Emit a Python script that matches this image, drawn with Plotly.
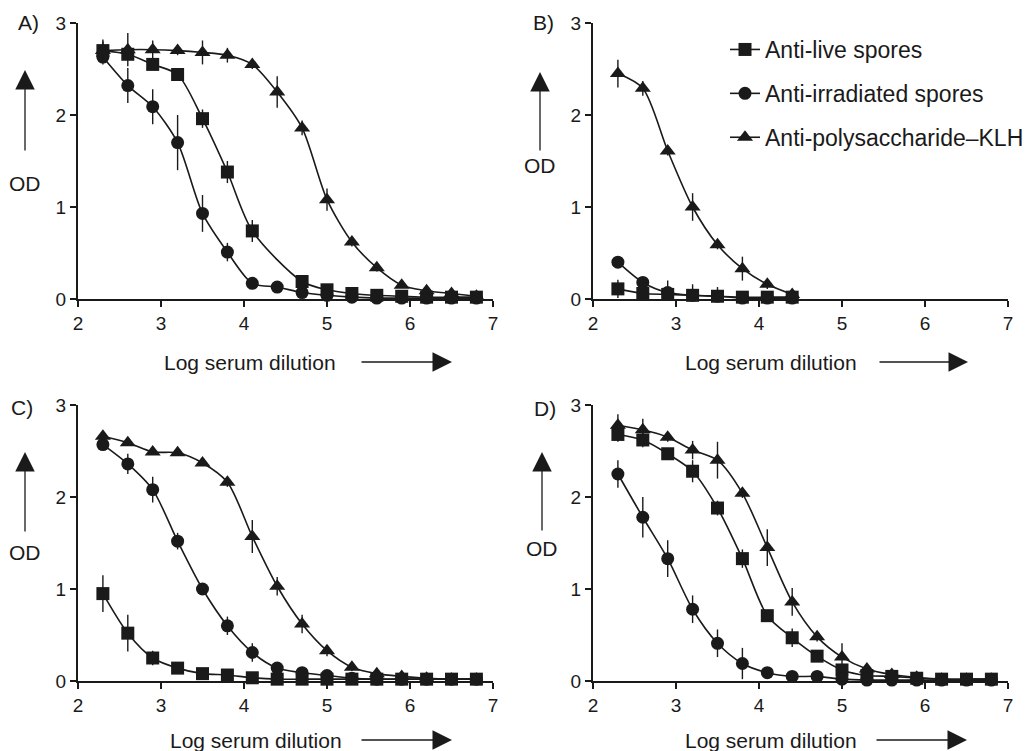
import plotly.graph_objects as go

W, H = 1034, 751

dilution = [2.3, 2.6, 2.9, 3.2, 3.5, 3.8, 4.1, 4.4, 4.7, 5.0, 5.3, 5.6, 5.9, 6.2, 6.5, 6.8]
dilution_b = [2.3, 2.6, 2.9, 3.2, 3.5, 3.8, 4.1, 4.4]

series_names = ["Anti-live spores", "Anti-irradiated spores", "Anti-polysaccharide\u2013KLH"]
symbols = ["square", "circle", "triangle-up"]
panel_letters = ["A)", "B)", "C)", "D)"]
x_ticks = [2, 3, 4, 5, 6, 7]
y_ticks = [0, 1, 2, 3]

# Panel A
A_live = [2.70, 2.66, 2.55, 2.44, 1.96, 1.38, 0.74, None, 0.19, 0.10, 0.06, 0.04, 0.03, 0.02, 0.02, 0.02]
A_live_err = [0.12, 0.06, 0.05, 0.05, 0.10, 0.12, 0.12, None, 0.05, 0.03, 0.02, 0.02, 0.02, 0.01, 0.01, 0.01]
A_irr = [2.63, 2.32, 2.09, 1.70, 0.93, 0.51, 0.17, 0.13, 0.07, 0.04, 0.02, 0.01, 0.01, 0.01, 0.01, 0.01]
A_irr_err = [0.08, 0.19, 0.19, 0.30, 0.20, 0.10, 0.06, 0.03, 0.03, 0.02, 0.01, 0.01, 0.01, 0.01, 0.01, 0.01]
A_poly = [2.70, 2.71, 2.71, 2.70, 2.68, 2.65, 2.55, 2.25, 1.86, 1.08, 0.62, 0.34, 0.15, 0.09, 0.06, 0.03]
A_poly_err = [0.10, 0.18, 0.10, 0.05, 0.13, 0.08, 0.05, 0.17, 0.08, 0.12, 0.05, 0.04, 0.03, 0.02, 0.02, 0.01]

# Panel B
B_live = [0.11, 0.06, 0.05, 0.04, 0.03, 0.02, 0.02, 0.02]
B_live_err = [0.10, 0.05, 0.15, 0.12, 0.10, 0.05, 0.03, 0.02]
B_irr = [0.40, 0.18, 0.07, 0.04, 0.03, 0.01, 0.01, 0.01]
B_irr_err = [0.03, 0.03, 0.05, 0.03, 0.02, 0.01, 0.01, 0.01]
B_poly = [2.45, 2.29, 1.61, 1.00, 0.59, 0.33, 0.16, 0.05]
B_poly_err = [0.15, 0.08, 0.05, 0.15, 0.05, 0.13, 0.05, 0.03]

# Panel C
C_live = [0.95, 0.52, 0.25, 0.14, 0.08, 0.065, 0.035, 0.02, 0.02, 0.02, 0.02, 0.02, 0.02, 0.02, 0.02, 0.02]
C_live_err = [0.20, 0.20, 0.08, 0.04, 0.03, 0.02, 0.02, 0.01, 0.01, 0.01, 0.01, 0.01, 0.01, 0.01, 0.01, 0.01]
C_irr = [2.57, 2.36, 2.08, 1.52, 1.00, 0.60, 0.31, 0.14, 0.09, 0.06, 0.03, 0.02, 0.02, 0.02, 0.02, 0.02]
C_irr_err = [0.05, 0.11, 0.14, 0.09, 0.03, 0.10, 0.10, 0.04, 0.03, 0.02, 0.01, 0.01, 0.01, 0.01, 0.01, 0.01]
C_poly = [2.66, 2.59, 2.49, 2.48, 2.37, 2.16, 1.57, 1.03, 0.62, 0.33, 0.15, 0.08, 0.05, 0.03, 0.02, 0.02]
C_poly_err = [0.03, 0.03, 0.03, 0.03, 0.03, 0.05, 0.18, 0.10, 0.10, 0.06, 0.04, 0.02, 0.02, 0.01, 0.01, 0.01]

# Panel D
D_live = [2.68, 2.62, 2.47, 2.28, 1.88, 1.33, 0.71, 0.47, 0.27, 0.12, 0.06, 0.05, 0.03, 0.02, 0.02, 0.02]
D_live_err = [0.08, 0.08, 0.05, 0.12, 0.08, 0.10, 0.05, 0.10, 0.05, 0.05, 0.03, 0.02, 0.02, 0.01, 0.01, 0.01]
D_irr = [2.25, 1.78, 1.33, 0.78, 0.41, 0.19, 0.09, 0.05, 0.05, 0.02, 0.01, 0.01, 0.01, 0.01, 0.01, 0.01]
D_irr_err = [0.15, 0.22, 0.20, 0.15, 0.15, 0.17, 0.05, 0.02, 0.02, 0.02, 0.01, 0.01, 0.01, 0.01, 0.01, 0.01]
D_poly = [2.78, 2.73, 2.65, 2.51, 2.40, 2.04, 1.45, 0.86, 0.48, 0.26, 0.13, 0.07, 0.04, 0.02, 0.02, 0.02]
D_poly_err = [0.12, 0.12, 0.05, 0.10, 0.20, 0.05, 0.20, 0.15, 0.05, 0.15, 0.05, 0.03, 0.02, 0.01, 0.01, 0.01]

panels = [
    (dilution, [(A_live, A_live_err), (A_irr, A_irr_err), (A_poly, A_poly_err)]),
    (dilution_b, [(B_live, B_live_err), (B_irr, B_irr_err), (B_poly, B_poly_err)]),
    (dilution, [(C_live, C_live_err), (C_irr, C_irr_err), (C_poly, C_poly_err)]),
    (dilution, [(D_live, D_live_err), (D_irr, D_irr_err), (D_poly, D_poly_err)]),
]

# page body margin is removed by the post script, so pixel targets map directly
def px(x, y):
    return x / W, 1 - y / H

# pixel geometry of each panel: (x_left, x_right, y_top, y_bottom)
geom = [(78, 493, 23, 299), (593, 1008, 23, 299), (78, 493, 405, 681), (593, 1008, 405, 681)]
INK = "#1a1a1a"
FONT = "Arial, Liberation Sans, sans-serif"
TICK_SIZE = 19
LABEL_SIZE = 21

fig = go.Figure()
layout = {}
for i, ((xs, series), (xl, xr, yt, yb)) in enumerate(zip(panels, geom)):
    n = "" if i == 0 else str(i + 1)
    for j, (vals, errs) in enumerate(series):
        fig.add_trace(go.Scatter(
            x=xs, y=vals, mode="lines+markers", name=series_names[j],
            xaxis="x" + n, yaxis="y" + n,
            line=dict(color=INK, width=1.6, shape="spline", smoothing=0.8),
            marker=dict(symbol=symbols[j], size=13 if j != 2 else 14, color=INK),
            error_y=dict(type="data", array=errs, visible=True, color=INK, thickness=1.4, width=0),
            connectgaps=True, cliponaxis=False,
            showlegend=(i == 0), legendgroup=str(j),
        ))
    x0, y0 = px(xl, yb)
    x1, y1 = px(xr, yt)
    layout["xaxis" + n] = dict(
        domain=[x0, x1], range=[2, 7], anchor="y" + n,
        tickvals=x_ticks, ticks="outside", ticklen=6, tickwidth=2, tickcolor=INK,
        showline=True, linecolor=INK, linewidth=2.2, showgrid=False, zeroline=False,
        tickfont=dict(size=TICK_SIZE, color=INK, family=FONT),
    )
    layout["yaxis" + n] = dict(
        domain=[y0, y1], range=[0, 3], anchor="x" + n,
        tickvals=y_ticks, ticks="outside", ticklen=6, tickwidth=2, tickcolor=INK,
        showline=True, linecolor=INK, linewidth=2.2, showgrid=False, zeroline=False,
        tickfont=dict(size=TICK_SIZE, color=INK, family=FONT),
    )

fig.update_layout(**layout)

ann = []
# panel letters (centre positions in pixels)
for (lx, ly), t in zip([(28, 22), (543, 22), (22, 407), (545, 408)], panel_letters):
    x, y = px(lx, ly)
    ann.append(dict(x=x, y=y, xref="paper", yref="paper", text=t, showarrow=False,
                    xanchor="center", yanchor="middle",
                    font=dict(size=LABEL_SIZE, color=INK, family=FONT)))

# OD labels and up arrows
for (ox, oy, a_top, a_bot) in [(25, 183, 70, 152), (540, 165, 72, 152), (25, 552, 452, 533), (542, 548, 452, 532)]:
    x, y = px(ox, oy)
    ann.append(dict(x=x, y=y, xref="paper", yref="paper", text="OD", showarrow=False,
                    xanchor="center", yanchor="middle",
                    font=dict(size=LABEL_SIZE, color=INK, family=FONT)))
    xa, ya = px(ox, a_top)
    ann.append(dict(x=xa, y=ya, xref="paper", yref="paper", text="", showarrow=True,
                    ax=0, ay=(a_bot - a_top), arrowhead=2, arrowsize=3, arrowwidth=1.3,
                    arrowcolor=INK, standoff=0))

# x labels and right arrows
for (tx, ty, a0, a1) in [(250, 362, 360, 452), (771, 362, 878, 968), (256, 740, 360, 452), (771, 740, 875, 967)]:
    x, y = px(tx, ty)
    ann.append(dict(x=x, y=y, xref="paper", yref="paper", text="Log serum dilution", showarrow=False,
                    xanchor="center", yanchor="middle",
                    font=dict(size=LABEL_SIZE, color=INK, family=FONT)))
    xa, ya = px(a1, ty)
    ann.append(dict(x=xa, y=ya, xref="paper", yref="paper", text="", showarrow=True,
                    ax=-(a1 - a0), ay=0, arrowhead=2, arrowsize=3, arrowwidth=1.3,
                    arrowcolor=INK, standoff=0))

lx, ly = px(725, 28)
fig.update_layout(
    width=W, height=H, margin=dict(l=0, r=0, t=0, b=0, pad=0, autoexpand=False),
    paper_bgcolor="white", plot_bgcolor="white",
    font=dict(family=FONT, color=INK),
    annotations=ann,
    legend=dict(x=lx, y=ly, xanchor="left", yanchor="top",
                font=dict(size=23, color=INK, family=FONT), tracegroupgap=11,
                bgcolor="rgba(0,0,0,0)", itemwidth=30),
)

fig.write_html("out.html", config={"displayModeBar": False},
               post_script="document.body.style.margin='0px';")
